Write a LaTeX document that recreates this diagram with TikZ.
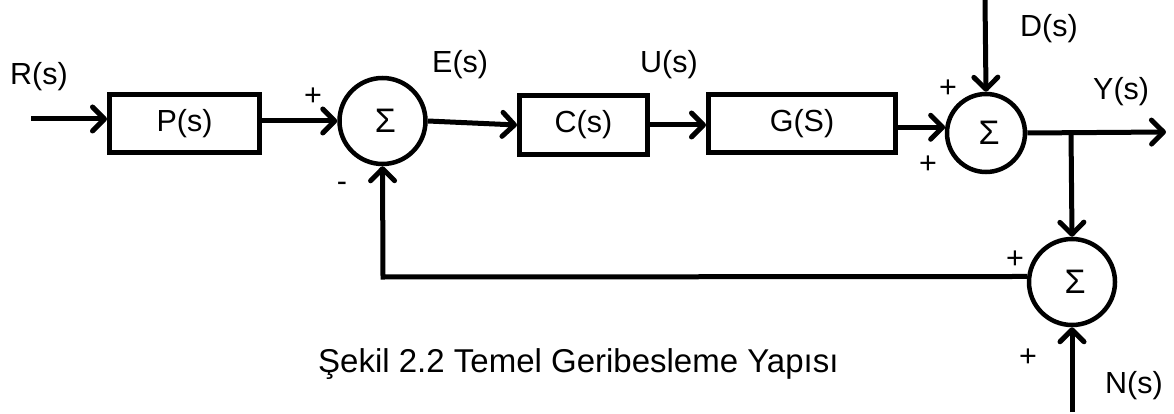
\documentclass[tikz,border=0pt]{standalone}
\usepackage{fontspec}
\setmainfont{Liberation Sans}
\usetikzlibrary{arrows.meta}
\tikzset{
  lbl/.style={font=\fontsize{30.5}{36}\selectfont, inner sep=0pt, anchor=base west},
  sgn/.style={font=\fontsize{30.5}{36}\selectfont, inner sep=0pt},
  blk/.style={draw, line width=5pt, font=\fontsize{30.5}{36}\selectfont, inner sep=0pt},
  sumnode/.style={draw, circle, line width=4.5pt, inner sep=0pt, font=\fontsize{34}{36}\selectfont},
  arr/.style={line width=5pt, -{Straight Barb[length=12pt,width=24pt,line width=5pt,round]}},
  wire/.style={line width=5pt}
}
\begin{document}
\begin{tikzpicture}[x=1pt,y=-1pt]
\useasboundingbox (0,0) rectangle (1174,414);
% blocks
\node[blk, minimum width=150pt, minimum height=58pt] (P) at (184.5,123.5) {P(s)};
\node[sumnode, minimum size=86pt] (S1) at (382.5,121) {\hspace*{6pt}Σ};
\node[blk, minimum width=128pt, minimum height=59pt] (C) at (583.5,125) {C(s)};
\node[blk, minimum width=187pt, minimum height=58pt] (G) at (802,123.5) {G(S)};
\node[sumnode, minimum size=78pt] (S2) at (986,133) {\hspace*{6pt}Σ};
\node[sumnode, minimum size=86pt] (S3) at (1072,282) {\hspace*{6pt}Σ};
% free ends
\coordinate (rin) at (31,119);
\coordinate (din) at (985,0);
\coordinate (yout) at (1166,132);
\coordinate (nin) at (1072,412);
\coordinate (br) at (1071,132);
\coordinate (fb) at (383,277);
% connectors
\draw[arr] (rin) -- (rin -| P.west);
\draw[arr] (P.east |- S1.west) -- (S1.west);
\draw[arr] (S1.east) -- (C.west);
\draw[arr] (C.east) -- (G.west |- C.east);
\draw[arr] (G.east |- S2.172) -- (S2.172);
\draw[arr] (din) -- (S2.north);
\draw[arr] (S2.east) -- (yout);
\draw[arr] (br) -- (S3.north);
\draw[arr] (nin) -- (S3.south);
\draw[arr] (S3.173) -- (fb) -- (S1.south);
% labels
\node[lbl] (lR) at (10,85) {R(s)};
\node[lbl] (lE) at (432,73) {E(s)};
\node[lbl] (lU) at (640,73) {U(s)};
\node[lbl] (lD) at (1020,37) {D(s)};
\node[lbl] (lY) at (1093,100) {Y(s)};
\node[lbl] (lN) at (1105,393) {N(s)};
\node[sgn] (p1) at (313,97) {+};
\node[sgn] (m1) at (342,187) {-};
\node[sgn] (p2) at (948,89) {+};
\node[sgn] (p3) at (928,165) {+};
\node[sgn] (p4) at (1015,260) {+};
\node[sgn] (p5) at (1028,358) {+};
\node[lbl, font=\fontsize{33}{38}\selectfont] (cap) at (318,372) {Şekil 2.2 Temel Geribesleme Yapısı};
\end{tikzpicture}
\end{document}
